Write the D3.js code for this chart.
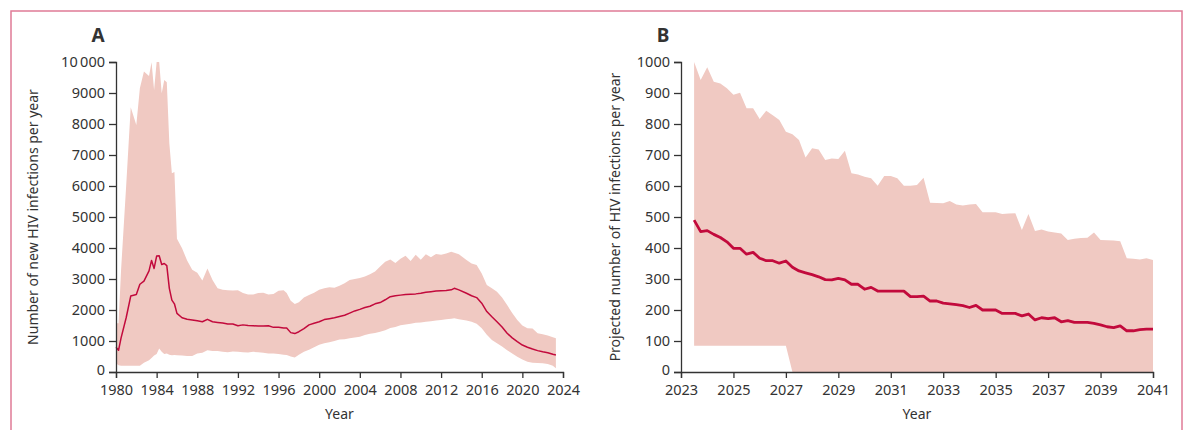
<!DOCTYPE html>
<html>
<head>
<meta charset="utf-8">
<script src="https://cdn.jsdelivr.net/npm/d3@7"></script>
<style>
  body { margin: 0; background: #fff; }
  text { font-family: "Noto Sans", sans-serif; fill: #333; }
</style>
</head>
<body>
<div id="chart"></div>
<script>
// Panel A: estimated new HIV infections, 1980-2023
const yearsA = [1980.0, 1980.25, 1980.5, 1981.0, 1981.45, 1982.0, 1982.35, 1982.75, 1983.25, 1983.5,
  1983.75, 1984.0, 1984.25, 1984.5, 1984.75, 1985.0, 1985.25, 1985.5, 1985.75, 1986.0,
  1986.5, 1987.0, 1987.5, 1988.0, 1988.5, 1989.0, 1989.5, 1990.0, 1990.5, 1991.0,
  1991.5, 1992.0, 1992.5, 1993.0, 1993.5, 1994.0, 1994.5, 1995.0, 1995.5, 1996.0,
  1996.5, 1996.8, 1997.2, 1997.6, 1998.0, 1998.5, 1999.0, 1999.5, 2000.0, 2000.5,
  2001.0, 2001.5, 2002.0, 2002.5, 2003.0, 2003.5, 2004.0, 2004.5, 2005.0, 2005.5,
  2006.0, 2006.5, 2007.0, 2007.5, 2008.0, 2008.5, 2009.0, 2009.5, 2010.0, 2010.5,
  2011.0, 2011.5, 2012.0, 2012.5, 2013.0, 2013.3, 2013.75, 2014.5, 2015.0, 2015.5,
  2016.0, 2016.5, 2017.0, 2017.5, 2018.0, 2018.5, 2019.0, 2019.5, 2020.0, 2020.5,
  2021.0, 2021.5, 2022.0, 2022.5, 2023.0, 2023.3];
const medianA = [800, 700, 1100, 1750, 2450, 2500, 2830, 2930, 3260, 3600,
  3340, 3740, 3750, 3470, 3500, 3430, 2700, 2320, 2200, 1890,
  1750, 1700, 1680, 1650, 1620, 1700, 1620, 1600, 1580, 1550,
  1550, 1490, 1520, 1500, 1490, 1480, 1480, 1490, 1440, 1440,
  1420, 1420, 1270, 1240, 1300, 1400, 1520, 1570, 1620, 1690,
  1720, 1750, 1790, 1830, 1900, 1970, 2020, 2080, 2120, 2200,
  2240, 2330, 2430, 2460, 2480, 2500, 2510, 2520, 2540, 2570,
  2590, 2610, 2620, 2630, 2650, 2700, 2650, 2540, 2460, 2400,
  2220, 1950, 1780, 1620, 1450, 1250, 1100, 980, 870, 800,
  740, 690, 650, 620, 570, 550];
const lowerA = [280, 220, 200, 200, 200, 200, 200, 300, 380, 450,
  530, 580, 760, 650, 580, 600, 560, 540, 550, 540,
  530, 520, 520, 600, 620, 700, 680, 680, 650, 640,
  660, 650, 640, 630, 650, 640, 620, 600, 600, 580,
  560, 550, 500, 470, 560, 650, 720, 800, 880, 930,
  960, 1000, 1050, 1060, 1090, 1110, 1140, 1190, 1230, 1260,
  1300, 1350, 1420, 1450, 1510, 1530, 1560, 1590, 1600, 1620,
  1640, 1660, 1680, 1700, 1720, 1730, 1700, 1660, 1620, 1560,
  1410, 1200, 1030, 930, 820, 700, 600, 495, 400, 330,
  300, 290, 280, 260, 200, 120];
const upperA = [1570, 1570, 3300, 6000, 8540, 7970, 9150, 9690, 9550, 9990,
  9100, 10000, 10000, 8990, 9420, 9350, 7380, 6410, 6450, 4300,
  3990, 3600, 3300, 3200, 2950, 3340, 2970, 2700, 2650, 2640,
  2630, 2640, 2550, 2500, 2500, 2550, 2560, 2500, 2520, 2620,
  2640, 2550, 2300, 2190, 2250, 2400, 2480, 2560, 2650, 2700,
  2730, 2720, 2780, 2860, 2970, 3000, 3030, 3080, 3150, 3240,
  3400, 3560, 3630, 3520, 3650, 3750, 3580, 3780, 3620, 3800,
  3700, 3810, 3780, 3820, 3880, 3850, 3800, 3610, 3500, 3450,
  3180, 2810, 2700, 2590, 2400, 2160, 1900, 1680, 1500, 1410,
  1400, 1250, 1220, 1180, 1120, 1090];
const ticksXA = [1980, 1984, 1988, 1992, 1996, 2000, 2004, 2008, 2012, 2016, 2020, 2024];
const ticksYA = [0, 1000, 2000, 3000, 4000, 5000, 6000, 7000, 8000, 9000, 10000];

// Panel B: projected infections, quarterly 2023.5-2041
const yearsB = [2023.5, 2023.75,
  2024.0, 2024.25, 2024.5, 2024.75, 2025.0, 2025.25, 2025.5, 2025.75,
  2026.0, 2026.25, 2026.5, 2026.75, 2027.0, 2027.25, 2027.5, 2027.75,
  2028.0, 2028.25, 2028.5, 2028.75, 2029.0, 2029.25, 2029.5, 2029.75,
  2030.0, 2030.25, 2030.5, 2030.75, 2031.0, 2031.25, 2031.5, 2031.75,
  2032.0, 2032.25, 2032.5, 2032.75, 2033.0, 2033.25, 2033.5, 2033.75,
  2034.0, 2034.25, 2034.5, 2034.75, 2035.0, 2035.25, 2035.5, 2035.75,
  2036.0, 2036.25, 2036.5, 2036.75, 2037.0, 2037.25, 2037.5, 2037.75,
  2038.0, 2038.25, 2038.5, 2038.75, 2039.0, 2039.25, 2039.5, 2039.75,
  2040.0, 2040.25, 2040.5, 2040.75, 2041.0];
const medianB = [490, 453,
  456, 444, 434, 420, 399, 399, 380, 386,
  367, 359, 359, 351, 358, 338, 326, 320,
  314, 307, 298, 297, 302, 297, 283, 283,
  267, 273, 261, 261, 261, 261, 261, 243,
  243, 245, 229, 229, 222, 220, 217, 214,
  208, 215, 200, 200, 200, 189, 189, 189,
  181, 187, 168, 175, 172, 175, 162, 166,
  160, 160, 160, 157, 152, 146, 143, 149,
  133, 133, 137, 138, 138];
const lowerB = [85, 85,
  85, 85, 85, 85, 85, 85, 85, 85,
  85, 85, 85, 85, 85, 0, 0, 0,
  0, 0, 0, 0, 0, 0, 0, 0,
  0, 0, 0, 0, 0, 0, 0, 0,
  0, 0, 0, 0, 0, 0, 0, 0,
  0, 0, 0, 0, 0, 0, 0, 0,
  0, 0, 0, 0, 0, 0, 0, 0,
  0, 0, 0, 0, 0, 0, 0, 0,
  0, 0, 0, 0, 0];
const upperB = [1000, 942,
  983, 936, 931, 915, 894, 901, 851, 851,
  816, 843, 828, 813, 775, 767, 748, 692,
  722, 718, 684, 689, 687, 714, 641, 637,
  630, 625, 601, 632, 632, 625, 601, 601,
  603, 627, 546, 545, 544, 552, 540, 537,
  540, 542, 515, 515, 515, 510, 511, 512,
  458, 510, 455, 460, 453, 450, 447, 426,
  430, 432, 433, 450, 426, 425, 424, 422,
  367, 365, 363, 367, 361];
const ticksXB = [2023, 2025, 2027, 2029, 2031, 2033, 2035, 2037, 2039, 2041];
const ticksYB = [0, 100, 200, 300, 400, 500, 600, 700, 800, 900, 1000];

const W = 1189, H = 430;
const bandColor = "#f0c9c2";
const lineColor = "#c20a3c";

const svg = d3.select("#chart").append("svg")
  .attr("width", W).attr("height", H);

// outer frame
svg.append("rect")
  .attr("x", 11).attr("y", 11)
  .attr("width", 1171).attr("height", 440)
  .attr("fill", "none")
  .attr("stroke", "#e07b97")
  .attr("stroke-width", 1.5);

function panel(opt) {
  const x = d3.scaleLinear().domain(opt.xDomain).range([opt.left, opt.right]);
  const y = d3.scaleLinear().domain(opt.yDomain).range([372, 62]);

  const rows = opt.years.map((yr, i) => ({ yr, m: opt.median[i], lo: opt.lower[i], hi: opt.upper[i] }));

  const g = svg.append("g");

  g.append("clipPath").attr("id", opt.id)
    .append("rect")
    .attr("x", opt.left).attr("y", 62)
    .attr("width", opt.right - opt.left).attr("height", 310);

  const area = d3.area()
    .x(d => x(d.yr))
    .y0(d => y(d.lo))
    .y1(d => y(d.hi));

  g.append("path")
    .datum(rows)
    .attr("clip-path", `url(#${opt.id})`)
    .attr("d", area)
    .attr("fill", bandColor);

  const line = d3.line()
    .x(d => x(d.yr))
    .y(d => y(d.m));

  g.append("path")
    .datum(rows)
    .attr("d", line)
    .attr("fill", "none")
    .attr("stroke", lineColor)
    .attr("stroke-width", opt.lineWidth)
    .attr("stroke-linejoin", "round");

  const xAxis = g.append("g")
    .attr("transform", "translate(0,372)")
    .call(d3.axisBottom(x).tickValues(opt.ticksX).tickFormat(d3.format("d")).tickSizeOuter(0).tickSize(6).tickPadding(7));

  const yAxis = g.append("g")
    .attr("transform", `translate(${opt.left},0)`)
    .call(d3.axisLeft(y).tickValues(opt.ticksY).tickFormat(opt.yFormat).tickSizeOuter(0).tickSize(7).tickPadding(4));

  [xAxis, yAxis].forEach(a => {
    a.select(".domain").attr("stroke", "#333").attr("stroke-width", 1.3);
    a.selectAll(".tick line").attr("stroke", "#333").attr("stroke-width", 1.3);
    a.selectAll(".tick text")
      .style("font-family", "'Noto Sans', sans-serif")
      .style("font-size", "14.5px")
      .attr("fill", "#333");
  });
  // nudge the bottom y label up a touch so it clears the first year label
  yAxis.selectAll(".tick text").filter(d => d === 0).attr("dy", "0.2em");

  g.append("text")
    .attr("x", (opt.left + opt.right) / 2)
    .attr("y", 419)
    .attr("text-anchor", "middle")
    .style("font-size", "14px")
    .text("Year");

  g.append("text")
    .attr("transform", `translate(${opt.labelX},${opt.labelY}) rotate(-90)`)
    .attr("text-anchor", "middle")
    .style("font-size", "14px")
    .text(opt.yLabel);

  g.append("text")
    .attr("x", opt.letterX).attr("y", 42)
    .attr("text-anchor", "middle")
    .style("font-size", "19px")
    .style("font-weight", "bold")
    .attr("fill", "#222")
    .text(opt.letter);
}

panel({
  id: "clipA", letter: "A", letterX: 98,
  left: 116, right: 563,
  xDomain: [1980, 2024], yDomain: [0, 10000],
  years: yearsA, median: medianA, lower: lowerA, upper: upperA,
  ticksX: ticksXA, ticksY: ticksYA,
  yFormat: d => d >= 10000 ? "10\u2009000" : String(d),
  lineWidth: 1.5,
  labelX: 38, labelY: 217,
  yLabel: "Number of new HIV infections per year"
});

panel({
  id: "clipB", letter: "B", letterX: 663,
  left: 681, right: 1153,
  xDomain: [2023, 2041], yDomain: [0, 1000],
  years: yearsB, median: medianB, lower: lowerB, upper: upperB,
  ticksX: ticksXB, ticksY: ticksYB,
  yFormat: d3.format("d"),
  lineWidth: 2.8,
  labelX: 620, labelY: 217,
  yLabel: "Projected number of HIV infections per year"
});
</script>
</body>
</html>
